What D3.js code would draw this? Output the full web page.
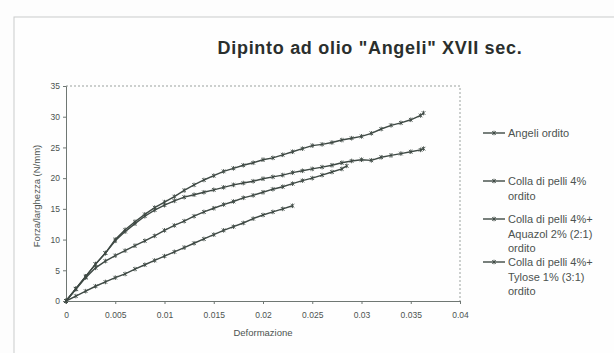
<!DOCTYPE html>
<html>
<head>
<meta charset="utf-8">
<script src="https://cdn.jsdelivr.net/npm/d3@7"></script>
<style>
  body { margin: 0; background: #fdfdfd; }
  svg { font-family: Arial, "Liberation Sans", sans-serif; }
</style>
</head>
<body>
<div id="chart"></div>
<script>
// strain values (x) shared by the series, step 0.001
var strain = [0, 0.001, 0.002, 0.003, 0.004, 0.005, 0.006, 0.007, 0.008, 0.009,
    0.010, 0.011, 0.012, 0.013, 0.014, 0.015, 0.016, 0.017, 0.018, 0.019,
    0.020, 0.021, 0.022, 0.023, 0.024, 0.025, 0.026, 0.027, 0.028, 0.029,
    0.030, 0.031, 0.032, 0.033, 0.034, 0.035, 0.036, 0.0363];

var angeli = [0, 2.0, 4.0, 6.0, 7.8, 10.0, 11.6, 12.9, 14.1, 15.2,
    16.1, 17.0, 18.0, 18.9, 19.7, 20.4, 21.1, 21.6, 22.1, 22.5,
    23.0, 23.3, 23.8, 24.3, 24.8, 25.3, 25.5, 25.8, 26.2, 26.5,
    26.8, 27.3, 28.0, 28.6, 29.0, 29.5, 30.2, 30.6];

var colla = [0, 2.0, 4.0, 6.0, 7.8, 9.8, 11.3, 12.6, 13.8, 14.8,
    15.6, 16.3, 16.9, 17.3, 17.7, 18.1, 18.5, 18.9, 19.2, 19.5,
    19.9, 20.2, 20.5, 20.9, 21.2, 21.5, 21.8, 22.1, 22.5, 22.8,
    23.0, 22.9, 23.4, 23.7, 24.0, 24.3, 24.6, 24.8];

var aquazol = [0, 1.9, 3.8, 5.4, 6.5, 7.4, 8.2, 9.0, 9.8, 10.6,
    11.5, 12.3, 13.0, 13.8, 14.5, 15.1, 15.7, 16.2, 16.8, 17.2,
    17.7, 18.2, 18.6, 19.1, 19.6, 20.0, 20.5, 21.0, 21.5];
var aquazolEnd = [0.0285, 22.0];

var tylose = [0, 0.8, 1.6, 2.4, 3.1, 3.8, 4.4, 5.2, 5.9, 6.6,
    7.3, 8.0, 8.7, 9.4, 10.1, 10.8, 11.5, 12.1, 12.7, 13.4,
    14.0, 14.5, 15.0, 15.5];

var legendNames = [
    ["Angeli ordito"],
    ["Colla di pelli 4%", "ordito"],
    ["Colla di pelli 4%+", "Aquazol 2% (2:1)", "ordito"],
    ["Colla di pelli 4%+", "Tylose 1% (3:1)", "ordito"]
];

var xTicks = [0, 0.005, 0.01, 0.015, 0.02, 0.025, 0.03, 0.035, 0.04];
var xTickLabels = ["0", "0.005", "0.01", "0.015", "0.02", "0.025", "0.03", "0.035", "0.04"];
var yTicks = [0, 5, 10, 15, 20, 25, 30, 35];

var lineColor = "#3e4944";
var textColor = "#4c5350";

function toPoints(ys) {
    return ys.map(function (v, i) { return [strain[i], v]; });
}

var series = [
    toPoints(angeli),
    toPoints(colla),
    toPoints(aquazol).concat([aquazolEnd]),
    toPoints(tylose)
];

var svg = d3.select("#chart").append("svg")
    .attr("width", 614)
    .attr("height", 353);

// outer chart frame
svg.append("rect")
    .attr("x", 14).attr("y", 17)
    .attr("width", 620).attr("height", 360)
    .attr("fill", "#fefefe")
    .attr("stroke", "#c9cccb")
    .attr("stroke-width", 1);

svg.append("text")
    .attr("x", 370).attr("y", 54)
    .attr("text-anchor", "middle")
    .style("font-size", "18px")
    .style("font-weight", "bold")
    .style("letter-spacing", "0.7px")
    .attr("fill", "#2a2f2d")
    .text("Dipinto ad olio \"Angeli\" XVII sec.");

var plot = {left: 66, right: 460, top: 86, bottom: 301};

var x = d3.scaleLinear().domain([0, 0.04]).range([plot.left, plot.right]);
var y = d3.scaleLinear().domain([0, 35]).range([plot.bottom, plot.top]);

// plot area border (top and right dashed)
svg.append("path")
    .attr("d", "M" + plot.left + "," + plot.top + "H" + plot.right + "V" + plot.bottom)
    .attr("fill", "none")
    .attr("stroke", "#9aa19e")
    .attr("stroke-dasharray", "2,2");

var yAxis = svg.append("g")
    .attr("transform", "translate(" + plot.left + ",0)")
    .call(d3.axisLeft(y).tickValues(yTicks).tickSize(3).tickPadding(3));

var xAxis = svg.append("g")
    .attr("transform", "translate(0," + plot.bottom + ")")
    .call(d3.axisBottom(x).tickValues(xTicks).tickSize(3).tickPadding(8)
        .tickFormat(function (d, i) { return xTickLabels[i]; }));

[xAxis, yAxis].forEach(function (g) {
    g.select(".domain").attr("stroke", "#6f7773");
    g.selectAll(".tick line").attr("stroke", "#6f7773");
    g.selectAll("text")
        .attr("fill", textColor)
        .style("font-size", "8.5px")
        .style("font-family", "Arial, 'Liberation Sans', sans-serif");
});

svg.append("text")
    .attr("transform", "translate(40,196) rotate(-90)")
    .attr("text-anchor", "middle")
    .style("font-size", "9.5px")
    .attr("fill", textColor)
    .text("Forza/larghezza (N/mm)");

svg.append("text")
    .attr("x", (plot.left + plot.right) / 2).attr("y", 336)
    .attr("text-anchor", "middle")
    .style("font-size", "9.5px")
    .attr("fill", textColor)
    .text("Deformazione");

var line = d3.line()
    .x(function (d) { return x(d[0]); })
    .y(function (d) { return y(d[1]); });

// star marker: x with a vertical bar
function star(s) {
    return "M" + (-s) + "," + (-s) + "L" + s + "," + s +
        "M" + (-s) + "," + s + "L" + s + "," + (-s) +
        "M0," + (-s - 0.5) + "L0," + (s + 0.5);
}

series.forEach(function (pts) {
    var g = svg.append("g");
    g.append("path")
        .datum(pts)
        .attr("d", line)
        .attr("fill", "none")
        .attr("stroke", lineColor)
        .attr("stroke-width", 1.4);
    g.selectAll("path.mk")
        .data(pts)
        .enter().append("path")
        .attr("class", "mk")
        .attr("transform", function (d) { return "translate(" + x(d[0]) + "," + y(d[1]) + ")"; })
        .attr("d", star(1.8))
        .attr("fill", "none")
        .attr("stroke", lineColor)
        .attr("stroke-width", 0.9);
});

// legend
var legendY = [133, 181, 219, 262];
var legends = svg.selectAll("g.legend")
    .data(legendNames)
    .enter().append("g")
    .attr("class", "legend")
    .attr("transform", function (d, i) { return "translate(483," + legendY[i] + ")"; });

legends.append("line")
    .attr("x1", 0).attr("x2", 22)
    .attr("y1", 0).attr("y2", 0)
    .attr("stroke", lineColor)
    .attr("stroke-width", 1.4);

legends.append("path")
    .attr("transform", "translate(11,0)")
    .attr("d", star(1.8))
    .attr("fill", "none")
    .attr("stroke", lineColor)
    .attr("stroke-width", 0.9);

legends.each(function (d) {
    var t = d3.select(this).append("text")
        .attr("x", 25).attr("y", 4)
        .style("font-size", "11px")
        .attr("fill", textColor);
    d.forEach(function (s, j) {
        t.append("tspan")
            .attr("x", 25)
            .attr("dy", j === 0 ? 0 : 14.5)
            .text(s);
    });
});
</script>
</body>
</html>
